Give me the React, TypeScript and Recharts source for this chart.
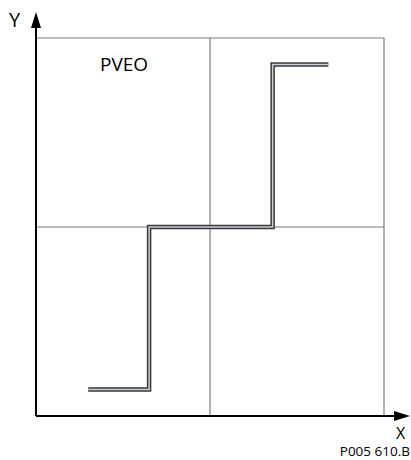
import React from 'react';
import { LineChart, Line, XAxis, YAxis, ReferenceLine } from 'recharts';

// Step characteristic (PVEO): input X vs output Y, both normalised to -5..5
const xValues = [-3.5, -1.75, -1.75, 1.8, 1.8, 3.4];
const yValues = [-4.3, -4.3, 0, 0, 4.3, 4.3];
const gridValues = [-5, 0, 5];

const data = xValues.map((x, i) => ({ x, y: yValues[i] }));

const W = 411;
const H = 460;
const margin = { top: 38, right: 27, bottom: 44, left: 36 };
const font = '"Open Sans", "DejaVu Sans", sans-serif';

const App: React.FC = () => {
  const x0 = margin.left;
  const y0 = H - margin.bottom;
  return (
    <div style={{ position: 'absolute', left: 0, top: 0, width: W, height: H, background: '#fff' }}>
      <LineChart width={W} height={H} data={data} margin={margin}>
        <XAxis type="number" dataKey="x" domain={[-5, 5]} hide />
        <YAxis type="number" domain={[-5, 5]} hide />
        {gridValues.map(v => (
          <ReferenceLine key={'v' + v} x={v} stroke="#7a7a7a" strokeWidth={1.2} />
        ))}
        {gridValues.map(v => (
          <ReferenceLine key={'h' + v} y={v} stroke="#7a7a7a" strokeWidth={1.2} />
        ))}
        <Line dataKey="y" type="linear" stroke="#3a3a3a" strokeWidth={4.5} dot={false}
          strokeLinejoin="miter" isAnimationActive={false} />
        <Line dataKey="y" type="linear" stroke="#c9d0d6" strokeWidth={1.5} dot={false}
          strokeLinejoin="miter" isAnimationActive={false} />
      </LineChart>
      <svg width={W} height={H} style={{ position: 'absolute', left: 0, top: 0 }}>
        <line x1={x0} y1={y0} x2={398} y2={y0} stroke="#000" strokeWidth={2} />
        <polygon points={`410,${y0} 394,${y0 - 5} 394,${y0 + 5}`} fill="#000" />
        <line x1={x0} y1={y0} x2={x0} y2={26} stroke="#000" strokeWidth={2} />
        <polygon points={`${x0},12 ${x0 - 5},28 ${x0 + 5},28`} fill="#000" />
        <text x={9} y={27} fontFamily={font} fontSize={20} fill="#000">Y</text>
        <text x={396} y={439} fontFamily={font} fontSize={16} fill="#000">X</text>
        <text x={410} y={456} textAnchor="end" fontFamily={font} fontSize={13.5} fill="#000">P005 610.B</text>
        <text x={100} y={71} fontFamily={font} fontSize={19} fill="#000">PVEO</text>
      </svg>
    </div>
  );
};

export default App;
